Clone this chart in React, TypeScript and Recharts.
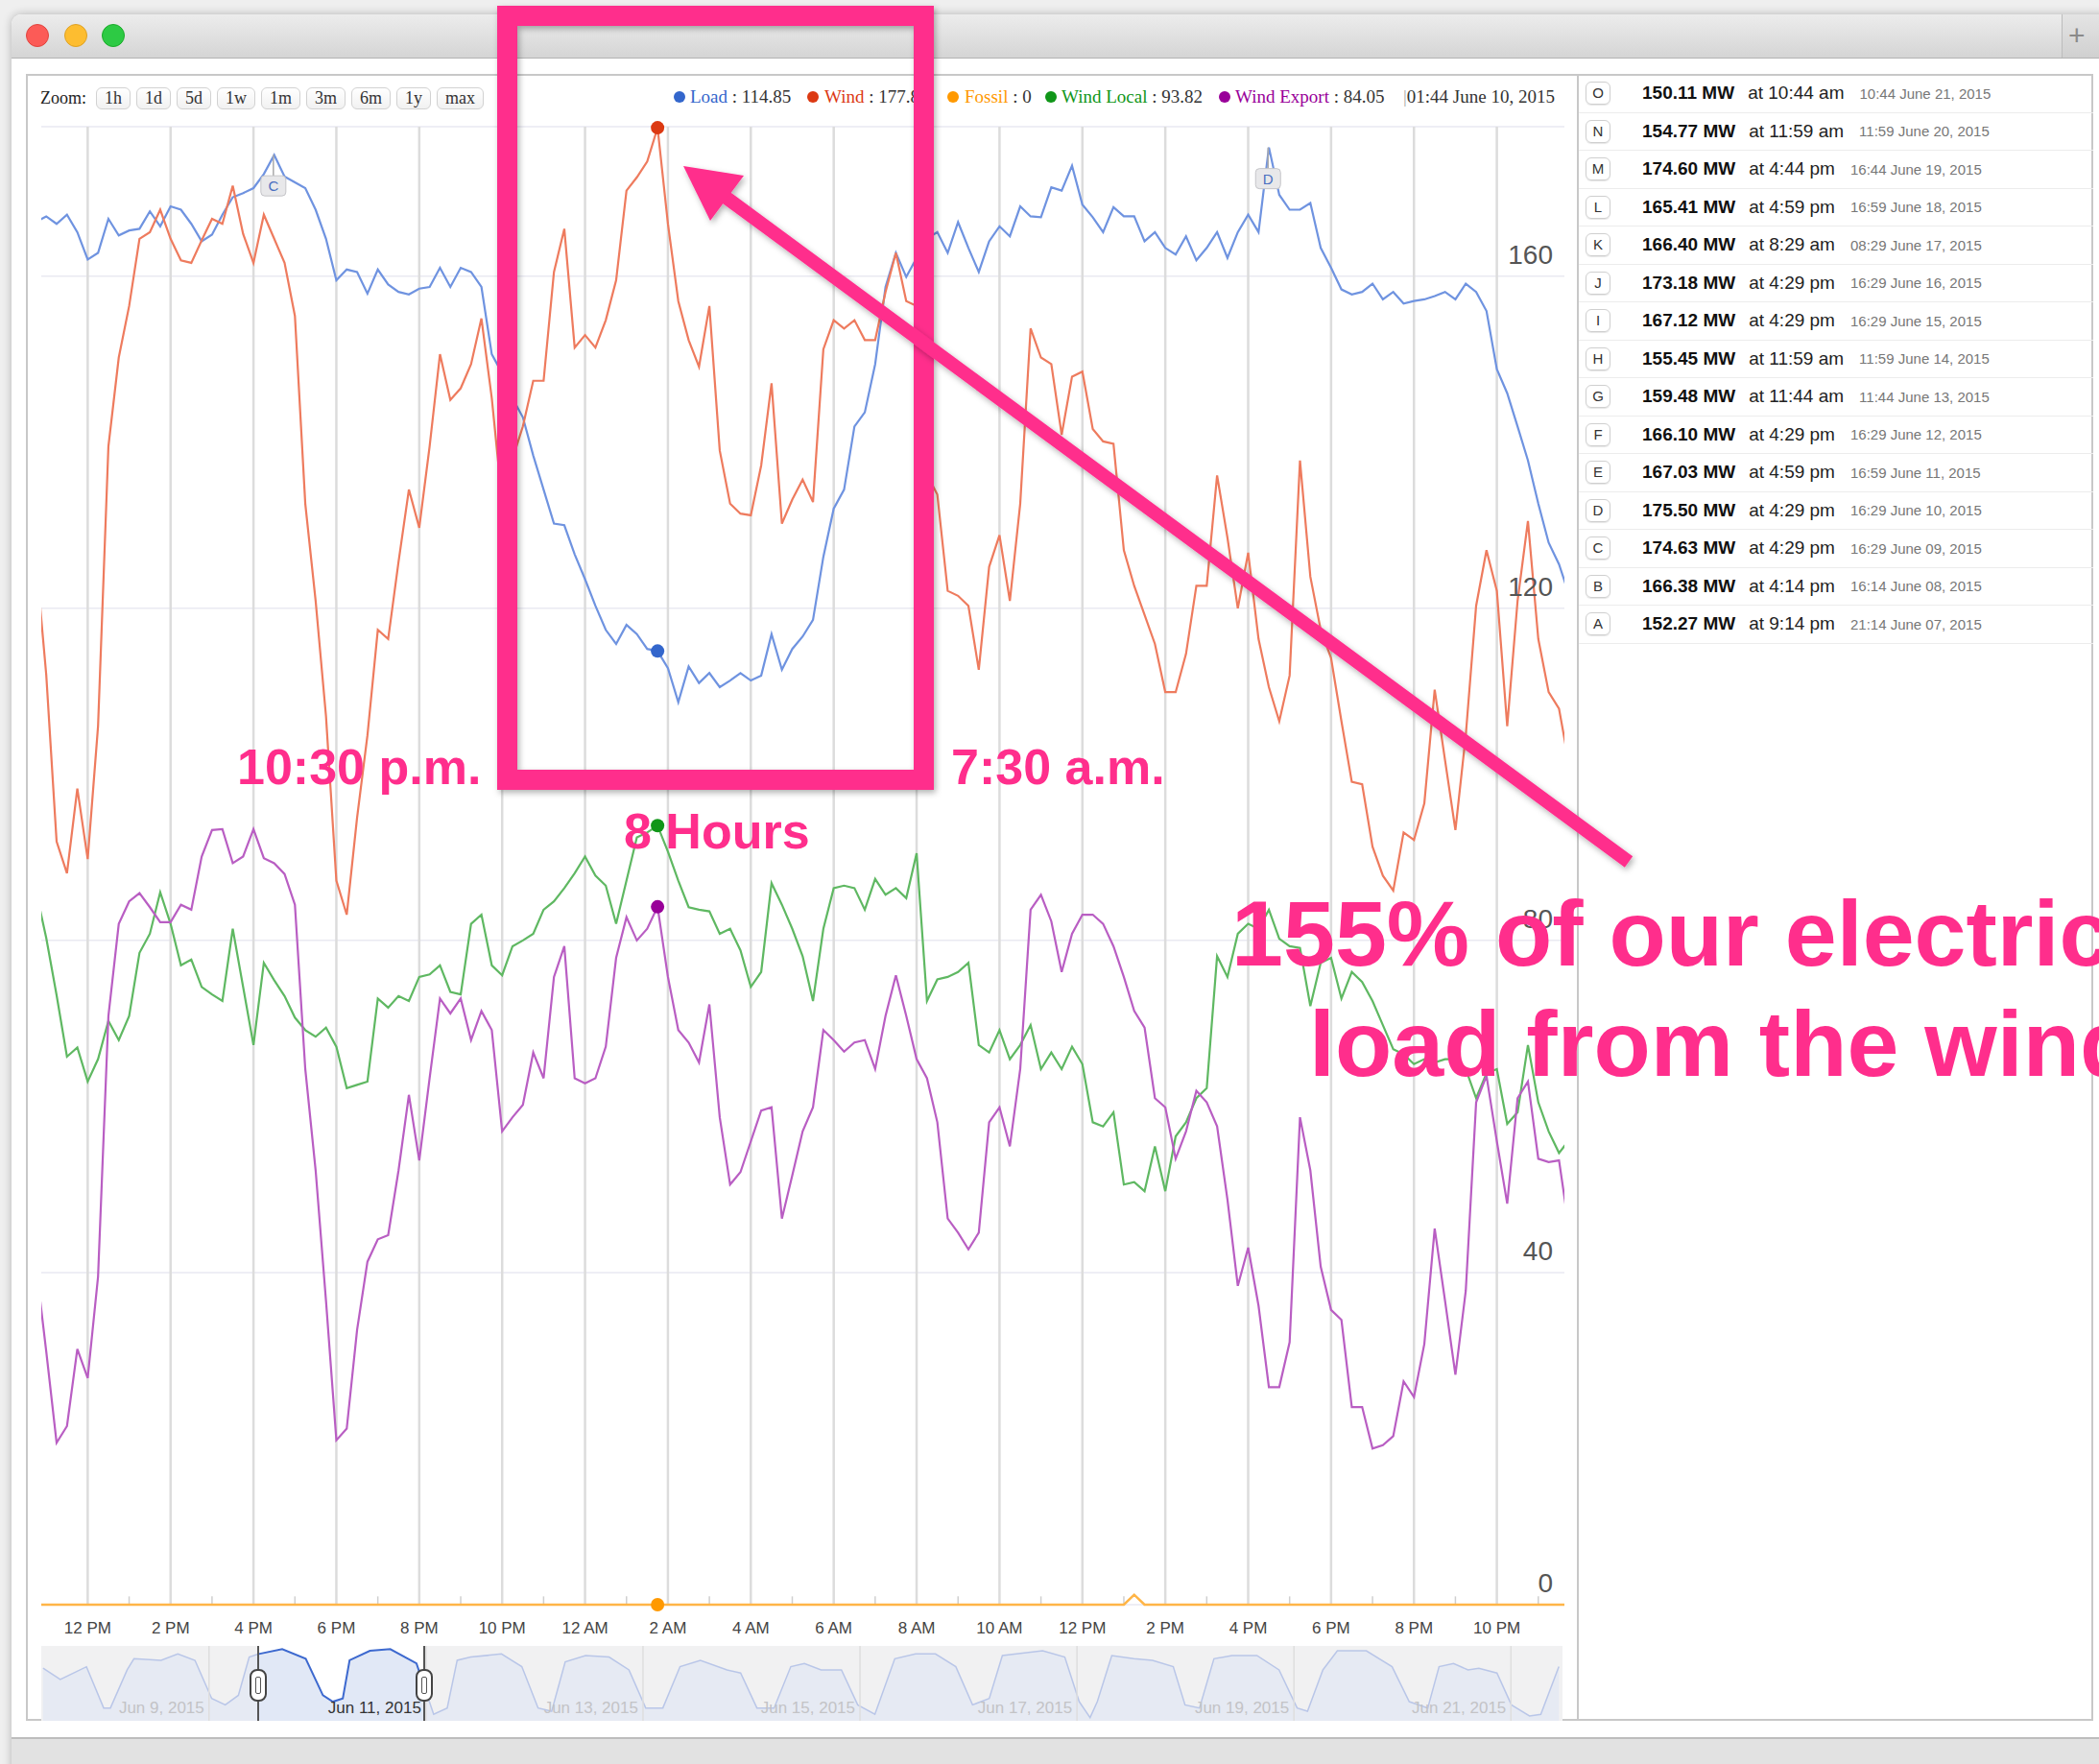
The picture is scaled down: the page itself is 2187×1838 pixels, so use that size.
import React from 'react';
import {
  LineChart, Line, XAxis, YAxis, CartesianGrid, ReferenceLine, ReferenceDot,
  AreaChart, Area,
} from 'recharts';

// samples every 15 min, first one at 10:45 AM Jun 9 2015 (hours counted from noon Jun 9)
const T0 = -1.25;
const STEP = 0.25;

const load = [
  166.5, 167.2, 166.3, 167.4, 165.3, 162, 162.8, 166.9, 164.9, 165.5,
  165.7, 167.8, 166, 168.4, 168, 166.3, 164.2, 165, 167.4, 169.5,
  170, 170.6, 172.3, 174.6, 172, 171.3, 170.6, 168, 164.5, 159.5,
  160.8, 160.5, 157.9, 160.8, 159, 158.1, 157.8, 158.5, 158.7, 161,
  158.7, 161, 160.5, 158.7, 150.6, 148.3, 145.3, 143, 138.4, 134.3,
  130.2, 130, 126.5, 123.5, 120.3, 117.4, 115.7, 118, 116.9, 115.1,
  114.85, 112.8, 108.7, 113, 111, 112.2, 110.5, 111.3, 112.2, 111.3,
  111.9, 116.9, 112.6, 115.1, 116.6, 118.6, 126.2, 132, 134.3, 141.9,
  143.6, 149.4, 158.7, 162.8, 159.9, 162.2, 164.5, 165.3, 162.8, 166.5,
  163.4, 160.5, 164.2, 166, 164.8, 168.4, 167.2, 167.1, 170.7, 170.3,
  173.3, 168.6, 167.1, 165.3, 168.3, 167.2, 167.2, 164.2, 165.3, 163.4,
  162.6, 164.8, 161.9, 163.4, 165.3, 162.2, 165.3, 167.4, 165.3, 175.5,
  169.8, 168, 168, 168.8, 163.4, 161, 158.4, 157.8, 158.1, 159.1,
  157.2, 158.1, 156.7, 157, 157.2, 157.6, 158.1, 157.2, 159.1, 158.1,
  155.8, 148.8, 145.9, 141.9, 137.8, 132.6, 127.9, 125.3, 121.5,
];

const wind = [
  126, 112, 91.9, 88.1, 98.3, 89.8, 105.8, 139.5, 150.2, 156.4,
  164.5, 165.3, 168, 164.5, 161.9, 161.6, 164.3, 166.9, 166.3, 170.9,
  165.1, 161.6, 167.4, 164.5, 161.6, 155.2, 132.6, 120.9, 107, 87.2,
  83.1, 94.8, 104.7, 117.4, 116.3, 125.6, 134.3, 129.7, 139.5, 150.6,
  145.1, 146.5, 149.4, 154.9, 145.3, 132.8, 138, 141.9, 147.4, 147.4,
  160.5, 165.7, 151.4, 152.9, 151.4, 154.7, 159.5, 170.3, 171.9, 173.8,
  177.87, 166.3, 157, 152.3, 149.1, 156.4, 139, 132.6, 131.4, 131.2,
  137.2, 147.1, 130.2, 133.1, 135.5, 132.8, 151.2, 154.7, 153.7, 154.7,
  152.3, 152.3, 158.1, 162.8, 157, 156.4, 136.1, 133.7, 122.1, 121.5,
  120.3, 112.6, 125, 128.8, 120.9, 132.6, 153.7, 150.2, 149.4, 140.9,
  147.9, 148.5, 141.6, 140.1, 139.8, 127, 122.7, 119.2, 115.7, 109.9,
  109.9, 114.5, 122.7, 122.7, 136, 128.5, 120, 126.7, 116.3, 110.5,
  106.4, 111.9, 137.8, 123.8, 117.4, 114, 106.4, 99.1, 98.8, 91.3,
  87.8, 86, 93, 92.1, 96.5, 110.2, 101.7, 93.3, 104.7, 120.3,
  127, 122.1, 105.8, 120.9, 130.5, 116.3, 109.9, 107.9, 101,
];

const windLocal = [
  86, 80.3, 73.4, 66, 67.1, 63, 65.7, 70.3, 68, 70.9,
  78.5, 80.8, 85.8, 82, 77, 77.7, 74.4, 73.5, 72.7, 81.4,
  74.4, 67.4, 77.3, 75.2, 73.3, 70.7, 69.2, 68.4, 69.5, 67.2,
  62.2, 62.6, 63, 73, 71.9, 73.3, 72.7, 75.6, 75.9, 77,
  73.8, 73.5, 82, 83.1, 77, 75.8, 79.3, 80, 80.8, 83.7,
  84.7, 86.3, 88.1, 90.1, 87.8, 86.6, 82, 87.2, 92.4, 93,
  93.82, 90.7, 87.2, 84, 83.7, 83.5, 80.8, 81.4, 78.8, 74.4,
  76.2, 86.9, 84.3, 81.4, 78.1, 72.7, 81.4, 86.3, 86.6, 86.3,
  83.7, 87.4, 85.5, 86.3, 85.1, 90.5, 72.7, 75.3, 75.6, 76.2,
  77.3, 67.4, 66.5, 69.2, 65.7, 67.4, 69.8, 64.5, 66.5, 64.5,
  67.2, 65.1, 58.1, 57.6, 59.3, 50.6, 50.9, 49.8, 55.2, 49.8,
  56.4, 58.1, 61, 62.2, 78.1, 75.6, 80.8, 82, 81.4, 83.7,
  80.2, 79.3, 79.1, 72.1, 77.3, 77.9, 73, 76.2, 75, 72.7,
  69.8, 66.9, 66.3, 65.1, 65.7, 65.3, 65.7, 65.7, 64.5, 61,
  64, 64.5, 57.9, 59.3, 67.4, 60.5, 57, 54.4, 56,
];

const windExport = [
  41, 30.5, 19.5, 21.5, 30.8, 27.3, 39.5, 70.9, 82, 84.7,
  85.7, 84, 82.2, 82.2, 84.3, 83.7, 90.1, 93.3, 93.4, 89.3,
  90.1, 93.4, 89.9, 89.3, 88, 84.3, 64.5, 52.3, 36.6, 19.8,
  21.2, 33.1, 41.3, 44, 44.5, 52.3, 61.4, 53.5, 63.4, 73,
  71.2, 73, 68, 71.5, 69.2, 57, 58.7, 60.2, 66.5, 63.4,
  75.6, 79.3, 63.4, 62.8, 63.4, 67.2, 77.9, 82.8, 80, 81.4,
  84.05, 75.6, 69.2, 67.7, 65.3, 72.3, 58.7, 50.6, 52.1, 55.8,
  59.5, 59.9, 46.5, 51.7, 57, 59.9, 69.2, 68, 66.6, 67.7,
  68, 64.5, 70.9, 75.8, 70.9, 65.7, 63.4, 58.1, 46.5, 44.8,
  42.8, 44.8, 58.1, 59.9, 55.2, 64.5, 83.7, 85.5, 82.3, 76.2,
  80.8, 83.1, 83.1, 82, 79.3, 75.6, 71.5, 69.5, 61, 59.9,
  53.7, 57, 61.9, 60.5, 57.6, 48.8, 38.4, 43, 36, 26.2,
  26.2, 31.6, 58.7, 52.3, 40.7, 35.5, 34.3, 23.8, 23.8, 18.8,
  19.2, 20.3, 26.9, 25, 31.4, 45.3, 36.6, 27.7, 37.8, 60.5,
  63.7, 55.8, 48.3, 61, 63, 53.7, 53.3, 53.5, 45,
];

const fossil = [
  0, 0, 0, 0, 0, 0, 0, 0, 0, 0,
  0, 0, 0, 0, 0, 0, 0, 0, 0, 0,
  0, 0, 0, 0, 0, 0, 0, 0, 0, 0,
  0, 0, 0, 0, 0, 0, 0, 0, 0, 0,
  0, 0, 0, 0, 0, 0, 0, 0, 0, 0,
  0, 0, 0, 0, 0, 0, 0, 0, 0, 0,
  0, 0, 0, 0, 0, 0, 0, 0, 0, 0,
  0, 0, 0, 0, 0, 0, 0, 0, 0, 0,
  0, 0, 0, 0, 0, 0, 0, 0, 0, 0,
  0, 0, 0, 0, 0, 0, 0, 0, 0, 0,
  0, 0, 0, 0, 0, 0, 1.2, 0, 0, 0,
  0, 0, 0, 0, 0, 0, 0, 0, 0, 0,
  0, 0, 0, 0, 0, 0, 0, 0, 0, 0,
  0, 0, 0, 0, 0, 0, 0, 0, 0, 0,
  0, 0, 0, 0, 0, 0, 0, 0, 0,
];

const HL = 60; // 01:44 June 10, the hovered sample

const tickHours = [0, 2, 4, 6, 8, 10, 12, 14, 16, 18, 20, 22, 24, 26, 28, 30, 32, 34];
const tickLabels = [
  '12 PM', '2 PM', '4 PM', '6 PM', '8 PM', '10 PM', '12 AM', '2 AM', '4 AM',
  '6 AM', '8 AM', '10 AM', '12 PM', '2 PM', '4 PM', '6 PM', '8 PM', '10 PM',
];
const yTicks = [0, 40, 80, 120, 160];

// flags drawn on the load line
const flagLetters = ['C', 'D'];
const flagHours = [4.48, 28.48];
const flagMW = [174.63, 175.5];

// annotation list on the right
const annLetters = ['O', 'N', 'M', 'L', 'K', 'J', 'I', 'H', 'G', 'F', 'E', 'D', 'C', 'B', 'A'];
const annMW = ['150.11', '154.77', '174.60', '165.41', '166.40', '173.18', '167.12', '155.45', '159.48', '166.10', '167.03', '175.50', '174.63', '166.38', '152.27'];
const annAt = ['10:44 am', '11:59 am', '4:44 pm', '4:59 pm', '8:29 am', '4:29 pm', '4:29 pm', '11:59 am', '11:44 am', '4:29 pm', '4:59 pm', '4:29 pm', '4:29 pm', '4:14 pm', '9:14 pm'];
const annStamp = [
  '10:44 June 21, 2015', '11:59 June 20, 2015', '16:44 June 19, 2015', '16:59 June 18, 2015',
  '08:29 June 17, 2015', '16:29 June 16, 2015', '16:29 June 15, 2015', '11:59 June 14, 2015',
  '11:44 June 13, 2015', '16:29 June 12, 2015', '16:59 June 11, 2015', '16:29 June 10, 2015',
  '16:29 June 09, 2015', '16:14 June 08, 2015', '21:14 June 07, 2015',
];

// range navigator (load over two weeks), hours from noon Jun 9
const navHours = [
  -48.7, -44.9, -39.1, -35.3, -33.8, -30.1, -28.6, -22.6, -18.9, -15.1,
  -11.4, -8.4, -5.5, -3.1, -1, 4.2, 9.4, 13.2, 15.4, 17.6,
  19.1, 23.6, 28.1, 33.9, 37.7, 40.7, 42.9, 45.9, 52.7, 57.2,
  60.8, 63.8, 66.8, 71.3, 76.5, 80.9, 84.6, 88.4, 92.2, 96.7,
  102.6, 105.6, 109.2, 113, 116.7, 119.7, 123.4, 127.9, 131.5, 135.3,
  139.7, 144.3, 148.7, 153.2, 156.9, 160.6, 163.5, 172.4, 177.3, 180.5,
  182.9, 184.5, 187.7, 192.6, 196.7, 201.3, 203.9, 207.1, 210.3, 214.3,
  219.8, 224.7, 228.7, 231, 234.4, 237.6, 244, 249.7, 253.5, 257.6,
  260.1, 263.3, 266.5, 268.9, 272.9, 276.1, 280.1, 282.6, 286.6,
];
const navLoad = [
  155.5, 144, 157, 114.8, 114.8, 153.8, 165.2, 163.6, 170.1, 163.6,
  124.5, 118, 127.8, 166.9, 170.1, 175, 165.2, 127.8, 121.3, 124.5,
  163.6, 173.4, 175, 160.4, 108.3, 114.8, 163.6, 166.9, 170.1, 157.1,
  114.8, 111.5, 162, 168.5, 166.9, 153.8, 114.8, 114.8, 157.1, 163.6,
  153.8, 150.6, 114.8, 114.8, 157.1, 160.4, 153.8, 153.8, 118, 108.3,
  165.2, 170.1, 170.1, 157.1, 118, 124.5, 168.5, 173.4, 166.9, 121.3,
  105, 121.3, 168.5, 165.2, 163.6, 157.1, 118, 114.8, 165.2, 168.5,
  168.5, 153.8, 114.8, 111.5, 153.8, 173.4, 173.4, 157.1, 121.3, 114.8,
  157.1, 160.4, 153.8, 155.5, 150.6, 118, 106.6, 108.3, 157.1,
];
const navDays = [-12, 36, 84, 132, 180, 228, 276];
const navDayLabels = ['Jun 9, 2015', 'Jun 11, 2015', 'Jun 13, 2015', 'Jun 15, 2015', 'Jun 17, 2015', 'Jun 19, 2015', 'Jun 21, 2015'];

const X_MIN = -1.12;
const X_MAX = 35.63;
const NAV_MIN = -49.1;
const NAV_MAX = 287.4;
const NAV_W = 1585;

const COLORS = { load: '#3366cc', wind: '#dc3912', fossil: '#ff9900', local: '#109618', exp: '#990099' };
const LINE = { load: '#6f93e0', wind: '#ee7b5e', fossil: '#ffb547', local: '#5fb862', exp: '#b95ec3' };
const PINK = '#ff2e8c';
const SANS = '"Liberation Sans", Arial, sans-serif';
const SERIF = '"Liberation Serif", "Times New Roman", serif';

const rows = load.map((v, i) => ({
  h: T0 + i * STEP,
  load: v,
  wind: wind[i],
  fossil: fossil[i],
  local: windLocal[i],
  exp: windExport[i],
}));

const navRows = navHours.map((h, i) => ({ h, v: navLoad[i] }));

function XTick(p: any) {
  const i = tickHours.indexOf(p.payload.value);
  return (
    <text x={p.x} y={p.y + 30} textAnchor="middle" fontSize={17} fill="#444" fontFamily={SANS}>
      {tickLabels[i]}
    </text>
  );
}

function YTick(p: any) {
  return (
    <text x={p.x - 12} y={p.y - 13} textAnchor="end" fontSize={28} fill="#555" fontFamily={SANS}>
      {p.payload.value}
    </text>
  );
}

function hlDot(color: string) {
  return (p: any) =>
    p.index === HL
      ? <circle key={`hl-${p.index}`} cx={p.cx} cy={p.cy} r={7} fill={color} />
      : <g key={`d-${p.index}`} />;
}

function flagShape(letter: string) {
  return (p: any) => (
    <g>
      <line x1={p.cx} y1={p.cy} x2={p.cx} y2={p.cy + 22} stroke="#aaa" strokeWidth={1.5} />
      <rect x={p.cx - 13} y={p.cy + 22} width={26} height={21} rx={4} fill="#e8e8ea" stroke="#c4c4c8" />
      <text x={p.cx} y={p.cy + 38} textAnchor="middle" fontSize={15} fill="#4a6fc0" fontFamily={SANS}>{letter}</text>
    </g>
  );
}

function navX(h: number) {
  return ((h - NAV_MIN) / (NAV_MAX - NAV_MIN)) * NAV_W;
}

function MainChart() {
  const minor: number[] = [];
  for (let h = 1; h < 36; h += 2) minor.push(h);
  return (
    <LineChart
      width={1660}
      height={1720}
      data={rows}
      margin={{ top: 132, right: 30, left: 43, bottom: 18 }}
    >
      <CartesianGrid vertical={false} stroke="#e9e9f2" strokeWidth={1.5} />
      <XAxis
        dataKey="h"
        type="number"
        domain={[X_MIN, X_MAX]}
        allowDataOverflow
        ticks={tickHours}
        interval={0}
        tick={<XTick />}
        tickLine={false}
        axisLine={false}
        tickSize={0}
        tickMargin={0}
        height={30}
      />
      <YAxis
        orientation="right"
        mirror
        domain={[0, 178]}
        ticks={yTicks}
        tick={<YTick />}
        tickLine={false}
        axisLine={false}
        tickSize={0}
        tickMargin={0}
      />
      {tickHours.map((h) => (
        <ReferenceLine key={`g${h}`} x={h} stroke="#dcdcdc" strokeWidth={2.5} />
      ))}
      {minor.map((h) => (
        <ReferenceLine key={`m${h}`} segment={[{ x: h, y: 0 }, { x: h, y: 1 }]} stroke="#cfcfcf" strokeWidth={1.5} />
      ))}
      <Line type="linear" dataKey="load" stroke={LINE.load} strokeWidth={2.2} dot={hlDot(COLORS.load)} activeDot={false} isAnimationActive={false} />
      <Line type="linear" dataKey="wind" stroke={LINE.wind} strokeWidth={2.2} dot={hlDot(COLORS.wind)} activeDot={false} isAnimationActive={false} />
      <Line type="linear" dataKey="local" stroke={LINE.local} strokeWidth={2.2} dot={hlDot(COLORS.local)} activeDot={false} isAnimationActive={false} />
      <Line type="linear" dataKey="exp" stroke={LINE.exp} strokeWidth={2.2} dot={hlDot(COLORS.exp)} activeDot={false} isAnimationActive={false} />
      <Line type="linear" dataKey="fossil" stroke={LINE.fossil} strokeWidth={2.5} dot={hlDot(COLORS.fossil)} activeDot={false} isAnimationActive={false} />
      {flagLetters.map((l, i) => (
        <ReferenceDot key={l} x={flagHours[i]} y={flagMW[i]} r={0} shape={flagShape(l)} />
      ))}
    </LineChart>
  );
}

function Navigator() {
  const selLeft = navX(X_MIN);
  const selRight = navX(X_MAX);
  return (
    <div style={{ position: 'absolute', left: 43, top: 1715, width: NAV_W, height: 78, background: '#f1f1f2', overflow: 'hidden' }}>
      <div style={{ position: 'absolute', left: 0, top: 0 }}>
        <AreaChart width={NAV_W} height={78} data={navRows} margin={{ top: 0, right: 0, left: 0, bottom: 0 }}>
          <XAxis hide dataKey="h" type="number" domain={[NAV_MIN, NAV_MAX]} allowDataOverflow />
          <YAxis hide domain={[101.7, 178.3]} allowDataOverflow />
          {navDays.map((d) => (
            <ReferenceLine key={d} x={d} stroke="#dedede" strokeWidth={1.5} />
          ))}
          <Area type="linear" dataKey="v" stroke="#b9c6e8" strokeWidth={1.5} fill="#e6eaf3" fillOpacity={1} isAnimationActive={false} />
        </AreaChart>
      </div>
      <div style={{ position: 'absolute', left: selLeft, top: 0, width: selRight - selLeft, height: 78, background: '#fff' }}>
        <AreaChart width={selRight - selLeft} height={78} data={navRows} margin={{ top: 0, right: 0, left: 0, bottom: 0 }}>
          <XAxis hide dataKey="h" type="number" domain={[X_MIN, X_MAX]} allowDataOverflow />
          <YAxis hide domain={[101.7, 178.3]} allowDataOverflow />
          <Area type="linear" dataKey="v" stroke="#3d69cf" strokeWidth={2} fill="#e1e8f6" fillOpacity={1} isAnimationActive={false} />
        </AreaChart>
      </div>
      {navDays.map((d, i) => {
        const inSel = d > X_MIN && d <= X_MAX + 0.5;
        return (
          <div
            key={d}
            style={{
              position: 'absolute', right: NAV_W - navX(d) + 5, bottom: 3,
              fontSize: 17, fontFamily: SANS, whiteSpace: 'nowrap',
              color: inSel ? '#333' : '#c3c3c6',
            }}
          >
            {navDayLabels[i]}
          </div>
        );
      })}
      {[selLeft, selRight].map((x, i) => (
        <React.Fragment key={i}>
          <div style={{ position: 'absolute', left: x - 1, top: 0, width: 2, height: 78, background: '#555' }} />
          <div style={{ position: 'absolute', left: x - 9, top: 24, width: 14, height: 30, borderRadius: 8, background: '#fff', border: '2px solid #444' }}>
            <div style={{ position: 'absolute', left: 4, top: 6, width: 6, height: 18, borderRadius: 2, border: '1.5px solid #555', boxSizing: 'border-box' }} />
          </div>
        </React.Fragment>
      ))}
    </div>
  );
}

function Legend() {
  const items = [
    { name: 'Load', color: COLORS.load, value: '114.85', dot: 708, text: 719 },
    { name: 'Wind', color: COLORS.wind, value: '177.87', dot: 847, text: 859 },
    { name: 'Fossil', color: COLORS.fossil, value: '0', dot: 993, text: 1005 },
    { name: 'Wind Local', color: COLORS.local, value: '93.82', dot: 1095, text: 1106 },
    { name: 'Wind Export', color: COLORS.exp, value: '84.05', dot: 1276, text: 1287 },
  ];
  return (
    <>
      {items.map((it) => (
        <React.Fragment key={it.name}>
          <div style={{ position: 'absolute', left: it.dot - 6, top: 95, width: 12, height: 12, borderRadius: 6, background: it.color }} />
          <div style={{ position: 'absolute', left: it.text, top: 90, fontFamily: SERIF, fontSize: 19, whiteSpace: 'nowrap', color: '#333' }}>
            <span style={{ color: it.color }}>{it.name}</span> : {it.value}
          </div>
        </React.Fragment>
      ))}
      <div style={{ position: 'absolute', left: 1462, top: 90, fontFamily: SERIF, fontSize: 19, whiteSpace: 'nowrap', color: '#333' }}>
        <span style={{ color: '#aaa' }}>|</span>01:44 June 10, 2015
      </div>
    </>
  );
}

function ZoomBar() {
  const btns = ['1h', '1d', '5d', '1w', '1m', '3m', '6m', '1y', 'max'];
  return (
    <div style={{ position: 'absolute', left: 42, top: 91, display: 'flex', alignItems: 'center', fontFamily: SERIF, fontSize: 18, color: '#222' }}>
      <span style={{ marginRight: 10 }}>Zoom:</span>
      {btns.map((b) => (
        <span
          key={b}
          style={{
            display: 'inline-block', height: 21, lineHeight: '21px', padding: '0 8px', marginRight: 6,
            border: '1px solid #d2d2d2', borderRadius: 6, background: 'linear-gradient(#ffffff, #f1f1f1)',
            color: '#333',
          }}
        >
          {b}
        </span>
      ))}
    </div>
  );
}

function AnnotationPanel() {
  return (
    <div style={{ position: 'absolute', left: 1645, top: 78, width: 536, fontFamily: SANS }}>
      {annLetters.map((l, i) => (
        <div key={l} style={{ height: 39.5, borderBottom: '1px solid #ececec', boxSizing: 'border-box', display: 'flex', alignItems: 'center', whiteSpace: 'nowrap' }}>
          <div style={{ marginLeft: 7, width: 24, height: 22, border: '1px solid #cfcfcf', borderRadius: 6, fontSize: 15, color: '#333', textAlign: 'center', lineHeight: '22px', boxShadow: '0 1px 1px rgba(0,0,0,0.1)' }}>{l}</div>
          <span style={{ marginLeft: 33, fontWeight: 700, fontSize: 19, color: '#111' }}>{annMW[i]} MW</span>
          <span style={{ marginLeft: 14, fontSize: 19, color: '#222' }}>at {annAt[i]}</span>
          <span style={{ marginLeft: 16, fontSize: 15, color: '#777' }}>{annStamp[i]}</span>
        </div>
      ))}
    </div>
  );
}

function PinkOverlay() {
  return (
    <svg width={2187} height={1838} style={{ position: 'absolute', left: 0, top: 0, pointerEvents: 'none' }}>
      <defs>
        <filter id="shadow" x="-10%" y="-10%" width="120%" height="120%">
          <feDropShadow dx="2" dy="3" stdDeviation="3" floodColor="#000" floodOpacity="0.3" />
        </filter>
      </defs>
      <rect x={528.5} y={16.5} width={434} height={796} fill="none" stroke={PINK} strokeWidth={21} filter="url(#shadow)" />
      <g filter="url(#shadow)">
        <line x1={1697} y1={898} x2={750} y2={201} stroke={PINK} strokeWidth={14} />
        <polygon points="712,173 775,183 740,230" fill={PINK} />
      </g>
      <g fill={PINK} fontFamily={SANS} fontWeight={700}>
        <text x={247} y={817} fontSize={52}>10:30 p.m.</text>
        <text x={991} y={817} fontSize={52}>7:30 a.m.</text>
        <text x={650} y={884} fontSize={52}>8 Hours</text>
        <text x={1283} y={1006} fontSize={97}>155% of our electric</text>
        <text x={1364} y={1121} fontSize={97}>load from the wind</text>
      </g>
    </svg>
  );
}

export default function App() {
  return (
    <div style={{ position: 'absolute', left: 0, top: 0, width: 2187, height: 1838, overflow: 'hidden', background: '#efefef', fontFamily: SANS }}>
      {/* window body */}
      <div style={{ position: 'absolute', left: 12, top: 15, width: 2200, height: 1850, background: '#fff', borderRadius: '10px 10px 0 0', boxShadow: '0 0 10px rgba(0,0,0,0.25)' }} />
      {/* title bar */}
      <div style={{ position: 'absolute', left: 12, top: 15, width: 2200, height: 45, background: 'linear-gradient(#ececec, #d5d5d5)', borderRadius: '10px 10px 0 0', borderBottom: '1px solid #b3b3b3' }} />
      <div style={{ position: 'absolute', left: 27, top: 25, width: 24, height: 24, borderRadius: 12, background: '#fc5b57', border: '1px solid #e0443e', boxSizing: 'border-box' }} />
      <div style={{ position: 'absolute', left: 67, top: 25, width: 24, height: 24, borderRadius: 12, background: '#fdbd30', border: '1px solid #dea123', boxSizing: 'border-box' }} />
      <div style={{ position: 'absolute', left: 106, top: 25, width: 24, height: 24, borderRadius: 12, background: '#2dca44', border: '1px solid #1aab29', boxSizing: 'border-box' }} />
      <div style={{ position: 'absolute', left: 2148, top: 15, width: 45, height: 45, borderLeft: '1px solid #bcbcbc', background: 'linear-gradient(#e4e4e4, #d0d0d0)', color: '#8a8a8a', fontSize: 30, lineHeight: '44px', paddingLeft: 6, boxSizing: 'border-box' }}>+</div>

      {/* chart frame */}
      <div style={{ position: 'absolute', left: 27, top: 77, width: 2154, height: 1716, border: '2px solid #c8c8c8', boxSizing: 'border-box' }} />
      <div style={{ position: 'absolute', left: 1643, top: 77, width: 2, height: 1716, background: '#c8c8c8' }} />

      <div style={{ position: 'absolute', left: 0, top: 0 }}>
        <MainChart />
      </div>

      <ZoomBar />
      <Legend />
      <AnnotationPanel />
      <Navigator />

      {/* bottom bar */}
      <div style={{ position: 'absolute', left: 12, top: 1810, width: 2200, height: 30, background: '#e2e2e2', borderTop: '2px solid #bdbdbd' }} />

      <PinkOverlay />
    </div>
  );
}
